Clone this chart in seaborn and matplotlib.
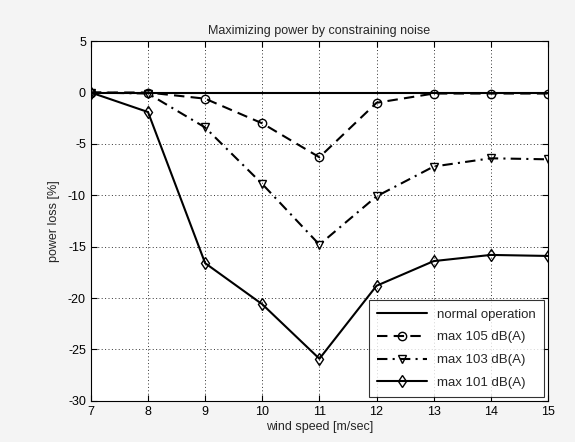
import pandas as pd
import seaborn as sns
import matplotlib.pyplot as plt
import numpy as np

# Data
wind_speed = [7, 8, 9, 10, 11, 12, 13, 14, 15]
normal_op = [0, 0, 0, 0, 0, 0, 0, 0, 0]
max_105 = [0, 0, -0.6, -3.0, -6.3, -1.0, -0.1, -0.1, -0.1]
max_103 = [0, -0.1, -3.4, -8.9, -14.8, -10.1, -7.2, -6.4, -6.5]
max_101 = [0, -1.9, -16.6, -20.6, -25.9, -18.8, -16.4, -15.8, -15.9]
labels = ["normal operation", "max 105 dB(A)", "max 103 dB(A)", "max 101 dB(A)"]

sns.set_style("white")
plt.rcParams['font.family'] = ['Liberation Sans', 'DejaVu Sans']
plt.rcParams['axes.unicode_minus'] = False

fig = plt.figure(figsize=(5.75, 4.42), dpi=100, facecolor='#f4f4f4')
ax = fig.add_axes([0.158, 0.093, 0.795, 0.814])
ax.set_facecolor('white')

styles = [
    dict(linestyle='-', marker=None),
    dict(linestyle=(0, (5, 3)), marker='o'),
    dict(linestyle=(0, (5, 2.5, 1, 2.5)), marker='v'),
    dict(linestyle='-', marker='d'),
]
series = [normal_op, max_105, max_103, max_101]
for vals, lab, st in zip(series, labels, styles):
    sns.lineplot(x=wind_speed, y=vals, ax=ax, color='black', label=lab,
                 linewidth=1.5, markersize=6, markerfacecolor='none',
                 markeredgecolor='black', markeredgewidth=1.0, **st)

ax.set_xlim(7, 15)
ax.set_ylim(-30, 5)
ax.set_xticks(range(7, 16))
ax.set_yticks(range(-30, 6, 5))
ax.grid(True, color='#333333', linestyle=(0, (1, 2.5)), linewidth=0.7)
for s in ax.spines.values():
    s.set_color('black')
    s.set_linewidth(0.8)
ax.tick_params(direction='in', length=4, labelsize=9, colors='black',
               top=True, right=True, bottom=True, left=True)
ax.set_xlabel("wind speed [m/sec]", fontsize=9, labelpad=2)
ax.set_ylabel("power loss [%]", fontsize=9, labelpad=6)
ax.set_title("Maximizing power by constraining noise", fontsize=9, pad=5)

leg = ax.legend(loc='lower right', fontsize=9.5, frameon=True, fancybox=False,
                edgecolor='black', handlelength=3.8, borderpad=0.6,
                labelspacing=0.8, borderaxespad=0.3)
leg.get_frame().set_linewidth(0.8)

fig.savefig('out.png', dpi=100, facecolor=fig.get_facecolor())
